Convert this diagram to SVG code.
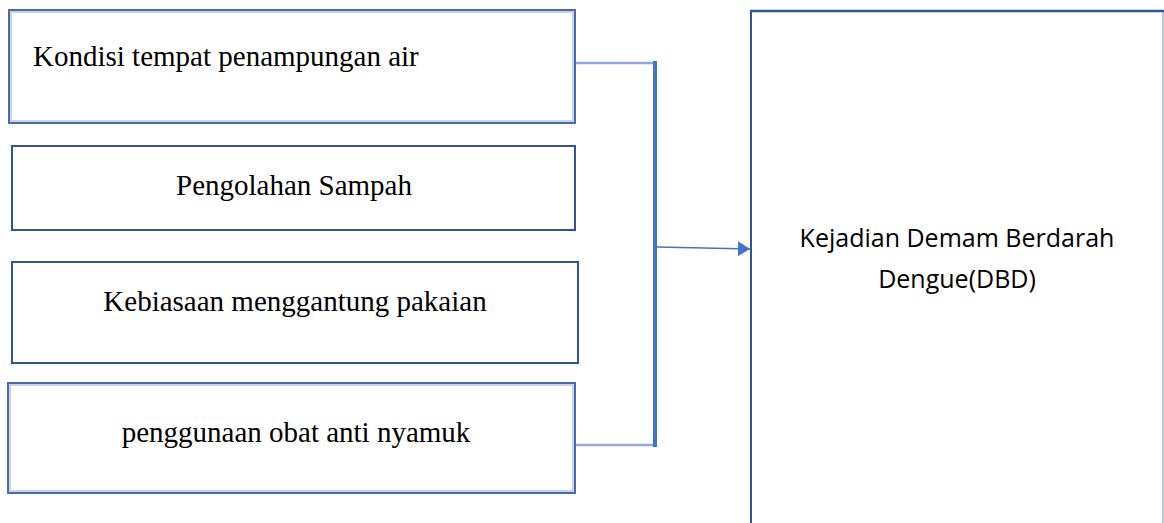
<svg xmlns="http://www.w3.org/2000/svg" width="1164" height="523" viewBox="0 0 1164 523">
  <defs>
    <style>
      .bg { fill: #ffffff; }
      .box { fill: #ffffff; stroke: #2f5597; stroke-width: 2; }
      .soft { fill: none; stroke: #4a6aa8; stroke-width: 2; }
      .softin { fill: none; stroke: #b4c5e4; stroke-width: 1.5; }
      .lbl { font-family: "Liberation Serif", "Times New Roman", serif; font-size: 29px; fill: #000000; }
      .lblc { font-family: "Open Sans", "Noto Sans", sans-serif; font-size: 25px; fill: #000000; text-anchor: middle; }
      .bus { fill: none; stroke: #4472c4; stroke-width: 4; }
      .arm { fill: none; stroke: #8ea9db; stroke-width: 2.5; }
      .arrow { fill: none; stroke: #4472c4; stroke-width: 1.3; }
    </style>
    <marker id="ah" markerWidth="12" markerHeight="15" refX="12" refY="7.5" orient="auto" markerUnits="userSpaceOnUse">
      <path d="M0,0 L12,7.5 L0,15 Z" fill="#4472c4"/>
    </marker>
  </defs>
  <rect class="bg" x="0" y="0" width="1164" height="523"/>

  <g id="connectors">
    <polyline class="arm" points="576,63 655,63"/>
    <polyline class="arm" points="576,445 655,445"/>
    <line class="bus" x1="655" y1="61" x2="655" y2="447"/>
    <line class="arrow" x1="657" y1="247" x2="750" y2="249" marker-end="url(#ah)"/>
  </g>

  <g id="node-kondisi">
    <rect class="soft" x="9" y="10" width="566" height="113"/>
    <rect class="softin" x="11" y="12" width="562" height="109"/>
    <text class="lbl" x="33" y="66">Kondisi tempat penampungan air</text>
  </g>

  <g id="node-sampah">
    <rect class="box" x="12" y="146" width="563" height="84"/>
    <text class="lbl" x="294" y="195" text-anchor="middle">Pengolahan Sampah</text>
  </g>

  <g id="node-pakaian">
    <rect class="box" x="12" y="262" width="566" height="101"/>
    <text class="lbl" x="295" y="311" text-anchor="middle">Kebiasaan menggantung pakaian</text>
  </g>

  <g id="node-obat">
    <rect class="soft" x="8" y="383" width="567" height="110"/>
    <rect class="softin" x="10" y="385" width="563" height="106"/>
    <text class="lbl" x="296" y="442" text-anchor="middle">penggunaan obat anti nyamuk</text>
  </g>

  <g id="node-dbd">
    <line x1="1163" y1="11" x2="1163" y2="523" stroke="#a8b6cf" stroke-width="1.5"/>
    <line x1="751" y1="11" x2="751" y2="523" stroke="#2f5597" stroke-width="2"/>
    <line x1="750" y1="11" x2="1164" y2="11" stroke="#2f5597" stroke-width="2.5"/>
    <text class="lblc" x="957" y="247">Kejadian Demam Berdarah</text>
    <text class="lblc" x="957" y="288">Dengue(DBD)</text>
  </g>
</svg>
